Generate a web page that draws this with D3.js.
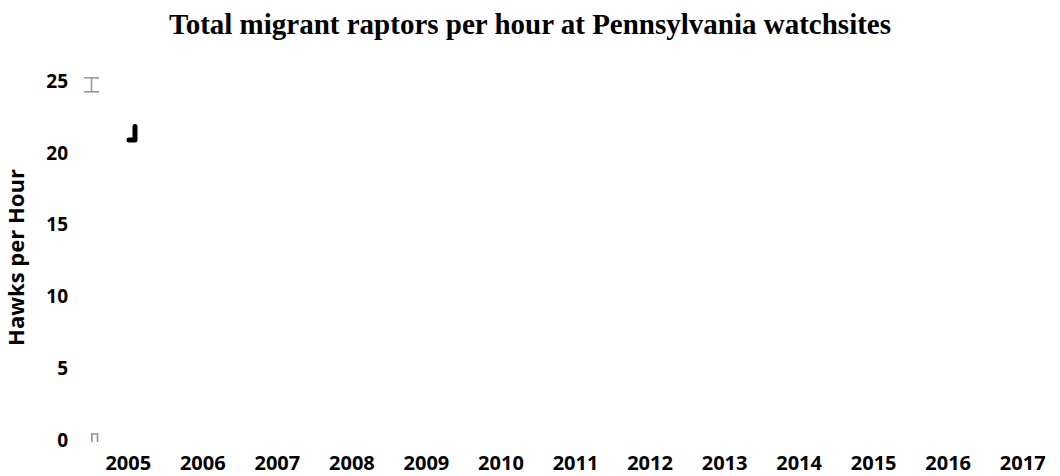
<!DOCTYPE html>
<html>
<head>
<meta charset="utf-8">
<script src="https://cdn.jsdelivr.net/npm/d3@7"></script>
<style>
  body { margin: 0; background: #fff; }
  svg { display: block; }
</style>
</head>
<body>
<div id="chart"></div>
<script>
const YEARS = ["2005", "2006", "2007", "2008", "2009", "2010", "2011", "2012", "2013", "2014", "2015", "2016", "2017"];
const Y_TICKS = [0, 5, 10, 15, 20, 25];

// gray error bar drawn at the left edge of the first year
const ERROR_BARS = [{ year: "2005", low: 24.28, high: 25.26 }];
// tiny gray bar outline near zero
const SMALL_BARS = [{ year: "2005", value: 0.42, base: -0.14 }];
// black line fragment, only 2005 rendered
const BLACK_LINE = [{ year: "2005", top: 21.86, bottom: 20.92 }];

const width = 1060;
const height = 476;
const axisFont = "'Open Sans', Lato, sans-serif";

const svg = d3.select("#chart").append("svg")
  .attr("width", width)
  .attr("height", height);

const x = d3.scaleBand().domain(YEARS).range([91, 1060]).padding(0);
const y = d3.scaleLinear().domain([0, 25]).range([440, 81.5]);

svg.append("text")
  .attr("x", 530)
  .attr("y", 34)
  .attr("text-anchor", "middle")
  .attr("font-family", "'Liberation Serif', 'Times New Roman', serif")
  .attr("font-weight", "bold")
  .attr("font-size", 29)
  .attr("fill", "#000")
  .text("Total migrant raptors per hour at Pennsylvania watchsites");

// y axis labels only, no lines
const yAxis = svg.append("g")
  .attr("transform", "translate(68,0)")
  .call(d3.axisLeft(y).tickValues(Y_TICKS).tickSize(0).tickPadding(0));
yAxis.select(".domain").remove();
yAxis.selectAll("text")
  .attr("font-family", axisFont)
  .attr("font-weight", "bold")
  .attr("font-size", 19)
  .attr("fill", "#000");

const xAxis = svg.append("g")
  .attr("transform", "translate(0,470)")
  .call(d3.axisBottom(x).tickSize(0).tickPadding(0));
xAxis.select(".domain").remove();
xAxis.selectAll("text")
  .attr("dy", 0)
  .attr("y", 0)
  .attr("font-family", axisFont)
  .attr("font-weight", "bold")
  .attr("font-size", 20)
  .attr("fill", "#000");

svg.append("text")
  .attr("transform", "translate(24,257.5) rotate(-90)")
  .attr("text-anchor", "middle")
  .attr("font-family", axisFont)
  .attr("font-weight", "bold")
  .attr("font-size", 22)
  .attr("fill", "#000")
  .text("Hawks per Hour");

// error bars
const eb = svg.append("g").attr("stroke", "#9a9a9a").attr("stroke-width", 1.6).attr("fill", "none");
ERROR_BARS.forEach((d) => {
  const cx = x(d.year) + 0.5;
  eb.append("line").attr("x1", cx).attr("x2", cx).attr("y1", y(d.high)).attr("y2", y(d.low));
  eb.append("line").attr("x1", cx - 7.5).attr("x2", cx + 7.5).attr("y1", y(d.high)).attr("y2", y(d.high));
  eb.append("line").attr("x1", cx - 7.5).attr("x2", cx + 7.5).attr("y1", y(d.low)).attr("y2", y(d.low));
});

// small bar outline
svg.append("g")
  .selectAll("path")
  .data(SMALL_BARS)
  .join("path")
  .attr("d", (d) => {
    const l = x(d.year) + 0.8, r = x(d.year) + 6.5;
    return `M${l},${y(d.base)}V${y(d.value)}H${r}V${y(d.base)}`;
  })
  .attr("fill", "none")
  .attr("stroke", "#8f8f8f")
  .attr("stroke-width", 1.6);

// black line fragment
svg.append("g")
  .selectAll("path")
  .data(BLACK_LINE)
  .join("path")
  .attr("d", (d) => {
    const cx = x(d.year) + x.bandwidth() * 0.59;
    return `M${cx},${y(d.top)}V${y(d.bottom)}H${cx - 6}`;
  })
  .attr("fill", "none")
  .attr("stroke", "#000")
  .attr("stroke-width", 5)
  .attr("stroke-linejoin", "round")
  .attr("stroke-linecap", "round");
</script>
</body>
</html>
